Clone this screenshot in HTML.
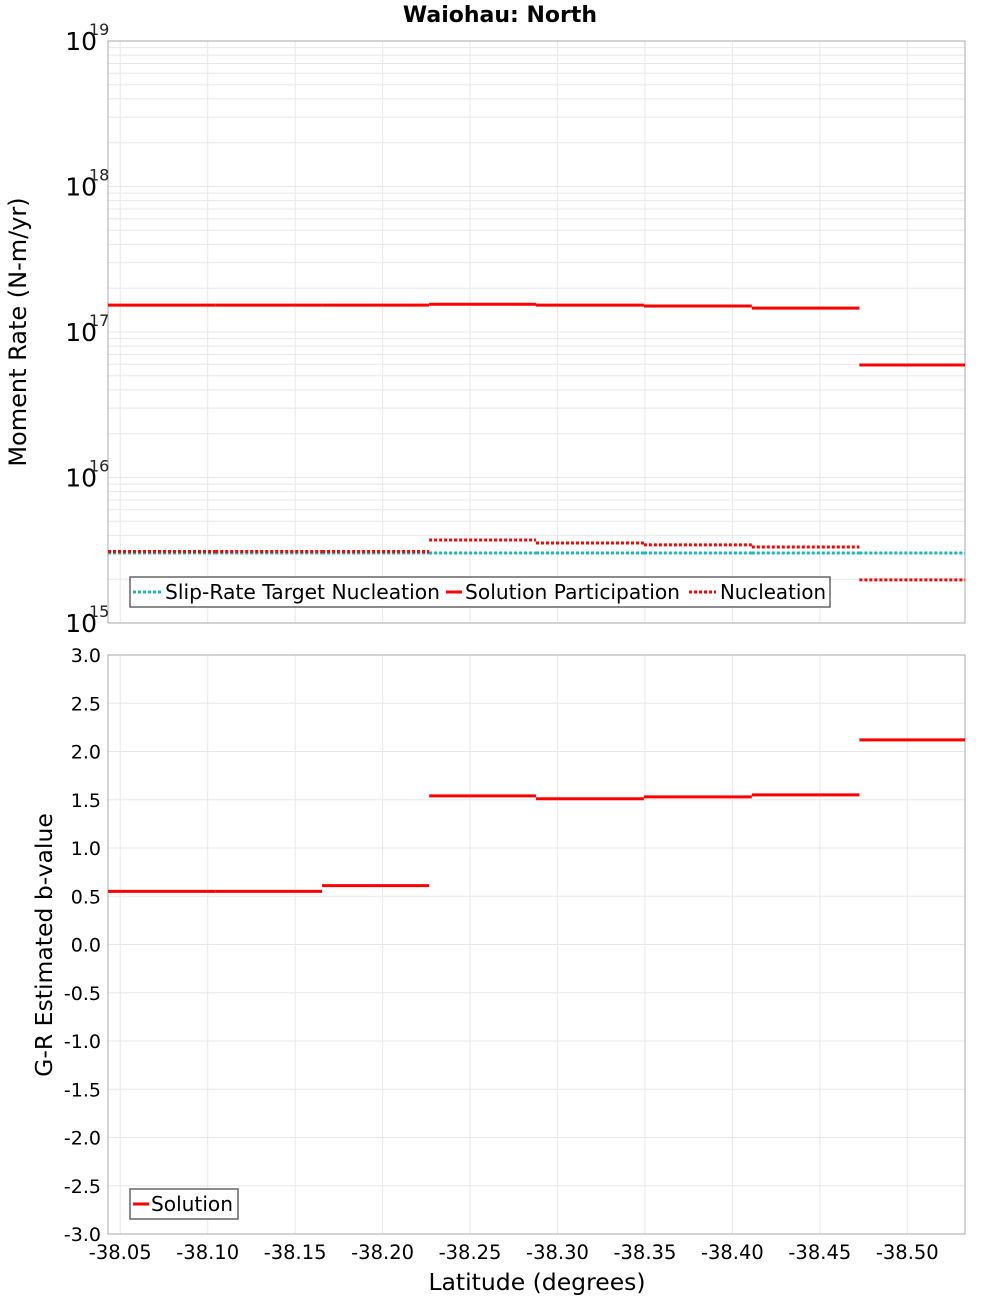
<!DOCTYPE html>
<html><head><meta charset="utf-8"><style>
body{margin:0;background:#fff;}
svg{display:block;font-family:"DejaVu Sans","Liberation Sans",sans-serif;}
</style></head><body>
<svg id="c" width="1000" height="1300" xmlns="http://www.w3.org/2000/svg"></svg>
<script>
const latEdges=[-38.043,-38.1043,-38.1654,-38.2266,-38.2877,-38.3494,-38.4111,-38.4726,-38.533];
const participation=[1.53e17,1.53e17,1.53e17,1.55e17,1.53e17,1.51e17,1.46e17,5.93e16];
const nucleation=[3.1e15,3.1e15,3.1e15,3.72e15,3.55e15,3.44e15,3.33e15,1.98e15];
const target=[3.03e15,3.03e15,3.03e15,3.03e15,3.03e15,3.03e15,3.03e15,3.03e15];
const bvalues=[0.55,0.55,0.61,1.54,1.51,1.53,1.55,2.12];
const xTicks=[-38.05,-38.10,-38.15,-38.20,-38.25,-38.30,-38.35,-38.40,-38.45,-38.50];
const yTicksB=[3.0,2.5,2.0,1.5,1.0,0.5,0.0,-0.5,-1.0,-1.5,-2.0,-2.5,-3.0];
const decades=[15,16,17,18,19];

const NS="http://www.w3.org/2000/svg";
const svg=document.getElementById('c');
const L=108,R=965,T1=41,B1=623,T2=655,B2=1234;
const xDom=[-38.043,-38.533];
function X(v){return L+(v-xDom[0])/(xDom[1]-xDom[0])*(R-L);}
function Y1(v){return B1-(Math.log10(v)-15)/4*(B1-T1);}
function Y2(v){return B2-(v+3)/6*(B2-T2);}
function mk(tag,attrs,parent){const e=document.createElementNS(NS,tag);for(const k in attrs)e.setAttribute(k,attrs[k]);(parent||svg).appendChild(e);return e;}
function txt(s,attrs){const e=mk('text',attrs);e.textContent=s;return e;}

let t=txt('Waiohau: North',{x:500,y:22,'text-anchor':'middle','font-size':22,'font-weight':'bold'});



const g1=mk('g',{});


for(let d=15;d<19;d++){for(let m=1;m<10;m++){const y=Y1(m*Math.pow(10,d));mk('line',{x1:L,x2:R,y1:y,y2:y,stroke:'#e8e8e8','stroke-width':1},g1);}}
xTicks.forEach(v=>{const x=X(v);mk('line',{x1:x,x2:x,y1:T1,y2:B1,stroke:'#e8e8e8'},g1);});
const g2=mk('g',{});


yTicksB.forEach(v=>{const y=Y2(v);mk('line',{x1:L,x2:R,y1:y,y2:y,stroke:'#e8e8e8'},g2);});
xTicks.forEach(v=>{const x=X(v);mk('line',{x1:x,x2:x,y1:T2,y2:B2,stroke:'#e8e8e8'},g2);});

let f=mk('rect',{x:L,y:T1,width:R-L,height:B1-T1,fill:'none',stroke:'#aaa'});


f=mk('rect',{x:L,y:T2,width:R-L,height:B2-T2,fill:'none',stroke:'#aaa'});



decades.forEach(d=>{const y=Y1(Math.pow(10,d));
 let a=txt('10',{x:97,y:y+9,'text-anchor':'end','font-size':25});
 
 
 let b=txt(String(d),{x:89,y:y-6,'font-size':16,fill:'#222'});
 
 
});
yTicksB.forEach(v=>{const y=Y2(v);
 let a=txt(v.toFixed(1),{x:101,y:y+7,'text-anchor':'end','font-size':19});
 
 
});
xTicks.forEach(v=>{const x=X(v);
 let a=txt(v.toFixed(2),{x:x,y:1259,'text-anchor':'middle','font-size':19.5});
 
 
});
t=txt('Moment Rate (N-m/yr)',{x:0,y:0,transform:'translate(26,332) rotate(-90)','text-anchor':'middle','font-size':24});


t=txt('G-R Estimated b-value',{x:0,y:0,transform:'translate(52,945) rotate(-90)','text-anchor':'middle','font-size':23.5});


t=txt('Latitude (degrees)',{x:537,y:1290,'text-anchor':'middle','font-size':23.5});



function steps(vals,Yf,color,dash,name){
 const g=mk('g',{});
 
 
 vals.forEach((v,i)=>{const y=Yf(v);
  const ln=mk('line',{x1:X(latEdges[i]),x2:X(latEdges[i+1]),y1:y,y2:y,stroke:color,'stroke-width':3},g);
  if(dash)ln.setAttribute('stroke-dasharray',dash);
 });
}
steps(target,Y1,'#1ab8b8','3,2','target-nucleation-series');
steps(nucleation,Y1,'#ff0000','3,2','nucleation-series');
steps(participation,Y1,'#ff0000',null,'participation-series');
steps(bvalues,Y2,'#ff0000',null,'b-value-series');

const lg=mk('g',{});


mk('rect',{x:130,y:577,width:700,height:30,fill:'#fff',stroke:'#666','stroke-width':1.5},lg);
mk('line',{x1:133,x2:161,y1:592,y2:592,stroke:'#1ab8b8','stroke-width':3,'stroke-dasharray':'3,2'},lg);
let e=mk('text',{x:165,y:599,'font-size':20,textLength:275,lengthAdjust:'spacingAndGlyphs'},lg);e.textContent='Slip-Rate Target Nucleation';
mk('line',{x1:446,x2:462,y1:592,y2:592,stroke:'#ff0000','stroke-width':3},lg);
e=mk('text',{x:465,y:599,'font-size':20,textLength:215,lengthAdjust:'spacingAndGlyphs'},lg);e.textContent='Solution Participation';
mk('line',{x1:689,x2:716,y1:592,y2:592,stroke:'#ff0000','stroke-width':3,'stroke-dasharray':'3,2'},lg);
e=mk('text',{x:720,y:599,'font-size':20,textLength:106,lengthAdjust:'spacingAndGlyphs'},lg);e.textContent='Nucleation';

const lg2=mk('g',{});


mk('rect',{x:130,y:1189,width:108,height:30,fill:'#fff',stroke:'#666','stroke-width':1.5},lg2);
mk('line',{x1:133,x2:149,y1:1204,y2:1204,stroke:'#ff0000','stroke-width':3},lg2);
e=mk('text',{x:151,y:1211,'font-size':20,textLength:82,lengthAdjust:'spacingAndGlyphs'},lg2);e.textContent='Solution';
</script>
</body></html>
